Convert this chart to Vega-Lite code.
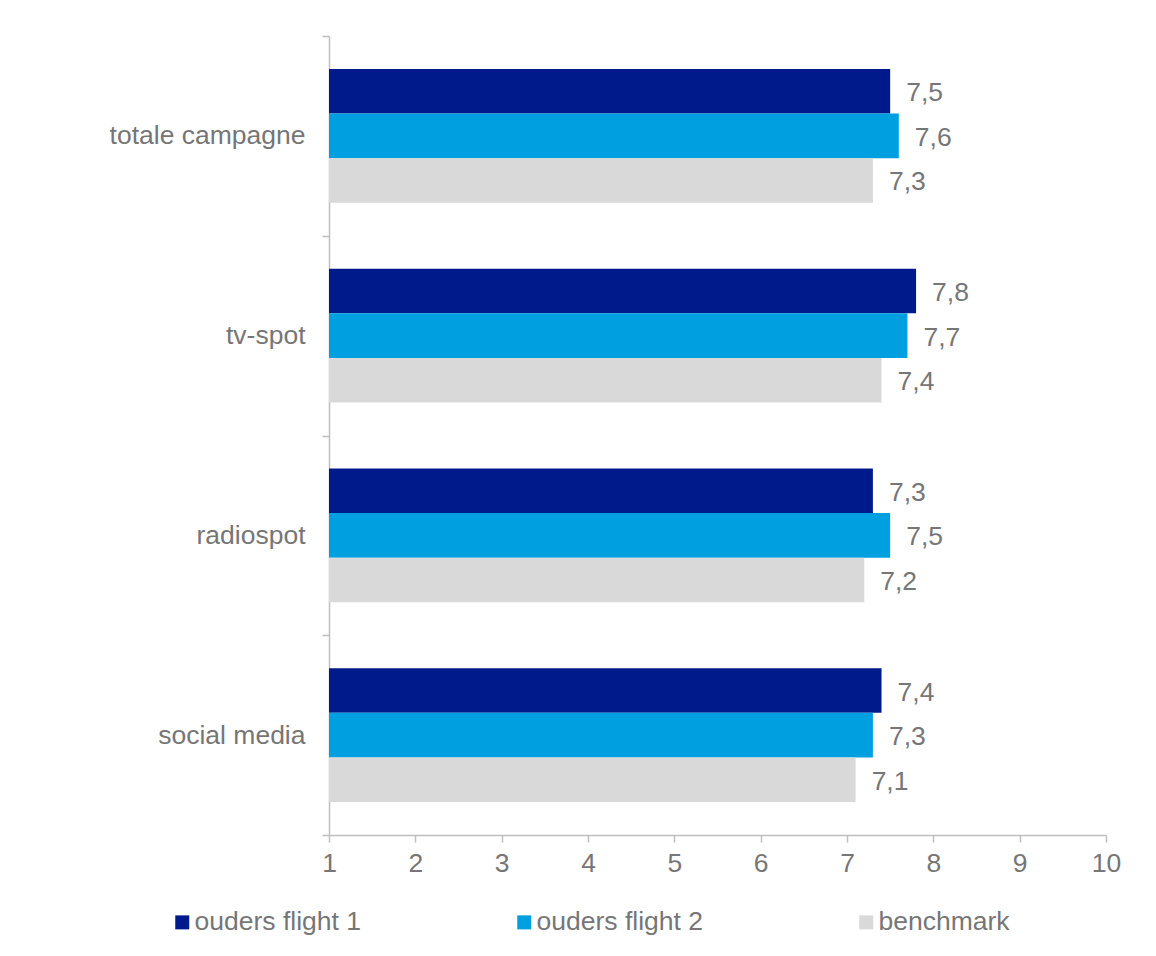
{
  "$schema": "https://vega.github.io/schema/vega-lite/v6.json",
  "autosize": "none",
  "width": 777,
  "height": 799,
  "padding": {"left": 329, "top": 36, "right": 50, "bottom": 121},
  "background": "white",
  "config": {
    "font": "Liberation Sans",
    "view": {"stroke": null},
    "locale": {"number": {"decimal": ",", "thousands": ".", "grouping": [3], "currency": ["€", ""]}}
  },
  "data": {
    "values": [
      {"categorie": "totale campagne", "reeks": "ouders flight 1", "waarde": 7.5},
      {"categorie": "totale campagne", "reeks": "ouders flight 2", "waarde": 7.6},
      {"categorie": "totale campagne", "reeks": "benchmark", "waarde": 7.3},
      {"categorie": "tv-spot", "reeks": "ouders flight 1", "waarde": 7.8},
      {"categorie": "tv-spot", "reeks": "ouders flight 2", "waarde": 7.7},
      {"categorie": "tv-spot", "reeks": "benchmark", "waarde": 7.4},
      {"categorie": "radiospot", "reeks": "ouders flight 1", "waarde": 7.3},
      {"categorie": "radiospot", "reeks": "ouders flight 2", "waarde": 7.5},
      {"categorie": "radiospot", "reeks": "benchmark", "waarde": 7.2},
      {"categorie": "social media", "reeks": "ouders flight 1", "waarde": 7.4},
      {"categorie": "social media", "reeks": "ouders flight 2", "waarde": 7.3},
      {"categorie": "social media", "reeks": "benchmark", "waarde": 7.1}
    ]
  },
  "encoding": {
    "y": {
      "field": "categorie",
      "type": "nominal",
      "sort": ["totale campagne", "tv-spot", "radiospot", "social media"],
      "scale": {"paddingInner": 0, "paddingOuter": 0},
      "axis": {
        "title": null,
        "domainColor": "#bfbfbf",
        "domainWidth": 1.5,
        "tickColor": "#bfbfbf",
        "tickWidth": 1.5,
        "tickSize": 7,
        "tickBand": "extent",
        "labelFontSize": 26.5,
        "labelColor": "#767676",
        "labelPadding": 17,
        "labelLimit": 400
      }
    },
    "yOffset": {
      "field": "reeks",
      "type": "nominal",
      "sort": ["ouders flight 1", "ouders flight 2", "benchmark"],
      "scale": {"paddingInner": 0, "paddingOuter": 0.744}
    },
    "x": {
      "field": "waarde",
      "type": "quantitative",
      "scale": {"domain": [1, 10], "zero": false, "nice": false},
      "axis": {
        "title": null,
        "values": [1, 2, 3, 4, 5, 6, 7, 8, 9, 10],
        "format": "d",
        "grid": false,
        "domainColor": "#bfbfbf",
        "domainWidth": 1.5,
        "tickColor": "#bfbfbf",
        "tickWidth": 1.5,
        "tickSize": 7,
        "labelFontSize": 26.5,
        "labelColor": "#767676",
        "labelPadding": 8,
        "labelFlush": false
      }
    }
  },
  "layer": [
    {
      "mark": {"type": "bar", "cornerRadius": 0},
      "encoding": {
        "x2": {"datum": 1},
        "color": {
          "field": "reeks",
          "type": "nominal",
          "scale": {
            "domain": ["ouders flight 1", "ouders flight 2", "benchmark"],
            "range": ["#001a8c", "#009fe0", "#d9d9d9"]
          },
          "legend": {
            "title": null,
            "orient": "none",
            "direction": "horizontal",
            "columns": 3,
            "legendX": -160,
            "legendY": 873,
            "symbolType": "square",
            "symbolSize": 196,
            "symbolStrokeWidth": 0,
            "symbolOpacity": 1,
            "labelFontSize": 26.5,
            "labelColor": "#767676",
            "labelOffset": -1,
            "labelLimit": 400,
            "columnPadding": 150
          }
        }
      }
    },
    {
      "mark": {"type": "text", "align": "left", "baseline": "middle", "dx": 16, "dy": 2, "fontSize": 26.5, "color": "#767676"},
      "encoding": {
        "text": {"field": "waarde", "type": "quantitative", "format": ".1f"}
      }
    }
  ]
}
